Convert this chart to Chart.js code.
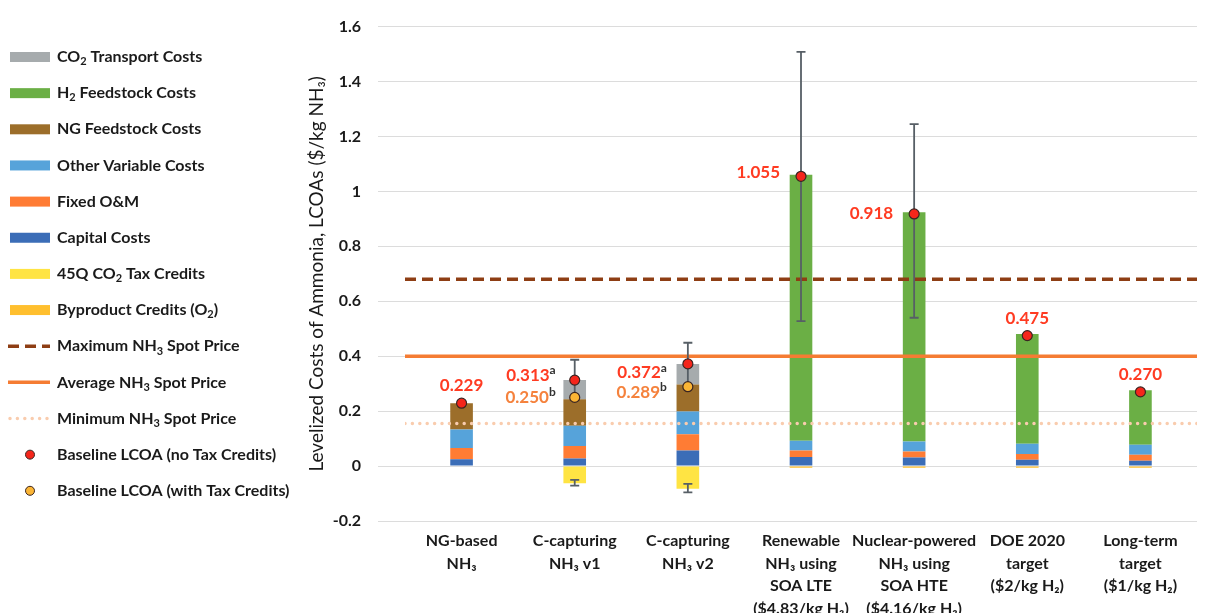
<!DOCTYPE html>
<html>
<head>
<meta charset="utf-8">
<script src="https://cdn.jsdelivr.net/npm/chart.js@4.4.1/dist/chart.umd.min.js"></script>
<style>
  html, body { margin: 0; padding: 0; background: #fff; }
</style>
</head>
<body>
<canvas id="chart" width="1212" height="613"></canvas>
<script>
// categories (x axis)
const categories = [
  ['NG-based', 'NH₃'],
  ['C-capturing', 'NH₃ v1'],
  ['C-capturing', 'NH₃ v2'],
  ['Renewable', 'NH₃ using', 'SOA LTE', '($4.83/kg H₂)'],
  ['Nuclear-powered', 'NH₃ using', 'SOA HTE', '($4.16/kg H₂)'],
  ['DOE 2020', 'target', '($2/kg H₂)'],
  ['Long-term', 'target', '($1/kg H₂)']
];

// cost components, $/kg NH3 (bottom to top)
const capitalCosts   = [0.025, 0.028, 0.057, 0.033, 0.031, 0.023, 0.019];
const fixedOM        = [0.041, 0.045, 0.059, 0.024, 0.022, 0.021, 0.022];
const otherVariable  = [0.067, 0.074, 0.083, 0.035, 0.036, 0.037, 0.037];
const ngFeedstock    = [0.096, 0.096, 0.098, null, null, null, null];
const h2Feedstock    = [null, null, null, 0.969, 0.835, 0.400, 0.198];
const co2Transport   = [null, 0.070, 0.075, null, null, null, null];
const taxCredits45Q  = [null, -0.063, -0.083, null, null, null, null];
const byproductO2    = [null, null, null, -0.006, -0.006, -0.006, -0.006];

// baseline LCOA points
const lcoaNoTax   = [0.229, 0.313, 0.372, 1.055, 0.918, 0.475, 0.270];
const lcoaWithTax = [null, 0.250, 0.289, null, null, null, null];

// error ranges [low, high]
const errLcoa = [null, [0.250, 0.387], [0.289, 0.449], [0.528, 1.508], [0.540, 1.245], null, null];
const errTax  = [null, [-0.071, -0.050], [-0.096, -0.065], null, null, null, null];

// NH3 spot prices
const maxSpotPrice = 0.68;
const avgSpotPrice = 0.40;
const minSpotPrice = 0.155;

// y axis range
const yMin = -0.2, yMax = 1.6, yStep = 0.2;

const fontFamily = 'Lato, "Open Sans", "DejaVu Sans", sans-serif';
Chart.defaults.font.family = fontFamily;
Chart.defaults.color = '#222';

const SUB = { '₂': '2', '₃': '3' };
const SUP = { 'ᵃ': 'a', 'ᵇ': 'b' };

function richParts(text) {
  const parts = [];
  for (const ch of text) {
    const kind = SUB[ch] ? 'sub' : SUP[ch] ? 'sup' : 'n';
    const c = SUB[ch] || SUP[ch] || ch;
    const last = parts[parts.length - 1];
    if (last && last.kind === kind) last.text += c;
    else parts.push({ kind: kind, text: c });
  }
  return parts;
}

function drawRich(ctx, text, x, y, size, color, align, supColor) {
  const parts = richParts(text);
  const fontFor = k => 'bold ' + (k === 'n' ? size : Math.round(size * 0.68)) + 'px ' + fontFamily;
  let total = 0;
  parts.forEach(p => { ctx.font = fontFor(p.kind); p.w = ctx.measureText(p.text).width; total += p.w; });
  let cx = align === 'right' ? x - total : align === 'center' ? x - total / 2 : x;
  ctx.textBaseline = 'middle';
  ctx.textAlign = 'left';
  parts.forEach(p => {
    ctx.font = fontFor(p.kind);
    ctx.fillStyle = (p.kind === 'sup' && supColor) ? supColor : color;
    const dy = p.kind === 'sub' ? size * 0.3 : p.kind === 'sup' ? -size * 0.3 : 0;
    ctx.fillText(p.text, cx, y + dy);
    cx += p.w;
  });
}

const legendOrder = [
  'CO₂ Transport Costs', 'H₂ Feedstock Costs', 'NG Feedstock Costs', 'Other Variable Costs',
  'Fixed O&M', 'Capital Costs', '45Q CO₂ Tax Credits', 'Byproduct Credits (O₂)',
  'Maximum NH₃ Spot Price', 'Average NH₃ Spot Price', 'Minimum NH₃ Spot Price',
  'Baseline LCOA (no Tax Credits)', 'Baseline LCOA (with Tax Credits)'
];

// where the value labels sit relative to their dot
const labelPlace = [
  { side: 'above', dy: -18 },
  { side: 'left', dx: -19, dy: -5, dyB: 0 },
  { side: 'left', dx: -21, dy: 9, dyB: 6 },
  { side: 'left', dx: -21, dy: -4 },
  { side: 'left', dx: -21, dy: 0 },
  { side: 'above', dy: -17 },
  { side: 'above', dy: -17 }
];

const sideLegend = {
  id: 'sideLegend',
  afterDraw(chart) {
    const ctx = chart.ctx;
    legendOrder.forEach((label, i) => {
      const ds = chart.data.datasets.find(d => d.label === label);
      const y = 57 + i * 36.15;
      ctx.save();
      if (ds.type === 'bar') {
        ctx.fillStyle = ds.backgroundColor;
        ctx.fillRect(10, y - 5, 40, 10);
      } else if (ds.showLine === false) {
        ctx.beginPath();
        ctx.arc(30, y, 4.5, 0, Math.PI * 2);
        ctx.fillStyle = ds.pointBackgroundColor;
        ctx.fill();
        ctx.lineWidth = 1;
        ctx.strokeStyle = ds.pointBorderColor;
        ctx.stroke();
      } else {
        ctx.beginPath();
        ctx.setLineDash(ds.borderDash || []);
        ctx.lineCap = ds.borderCapStyle || 'butt';
        ctx.lineWidth = ds.borderWidth;
        ctx.strokeStyle = ds.borderColor;
        ctx.moveTo(ds.borderCapStyle === 'round' ? 10 : 8, y);
        ctx.lineTo(50, y);
        ctx.stroke();
      }
      ctx.restore();
      ctx.save();
      drawRich(ctx, label, 57, y, 16, '#1a1a1a', 'left');
      ctx.restore();
    });
  }
};

const errorBars = {
  id: 'errorBars',
  beforeDatasetDraw(chart, args) {
    if (chart.data.datasets[args.index].label !== 'Baseline LCOA (with Tax Credits)') return;
    const ctx = chart.ctx, xs = chart.scales.x, ys = chart.scales.y;
    ctx.save();
    ctx.strokeStyle = '#575f66';
    ctx.lineWidth = 1.8;
    [errLcoa, errTax].forEach(list => {
      list.forEach((r, i) => {
        if (!r) return;
        const x = xs.getPixelForValue(i);
        const y0 = ys.getPixelForValue(r[0]), y1 = ys.getPixelForValue(r[1]);
        ctx.beginPath();
        ctx.moveTo(x, y0); ctx.lineTo(x, y1);
        ctx.moveTo(x - 4.5, y0); ctx.lineTo(x + 4.5, y0);
        ctx.moveTo(x - 4.5, y1); ctx.lineTo(x + 4.5, y1);
        ctx.stroke();
      });
    });
    ctx.restore();
  }
};

const valueLabels = {
  id: 'valueLabels',
  afterDatasetsDraw(chart) {
    const ctx = chart.ctx, xs = chart.scales.x, ys = chart.scales.y;
    lcoaNoTax.forEach((v, i) => {
      const p = labelPlace[i];
      const x = xs.getPixelForValue(i);
      const y = ys.getPixelForValue(v);
      const hasB = lcoaWithTax[i] != null;
      ctx.save();
      if (p.side === 'above') {
        drawRich(ctx, v.toFixed(3), x, y + p.dy, 17, '#ff3b22', 'center');
      } else {
        drawRich(ctx, v.toFixed(3) + (hasB ? 'ᵃ' : ''), x + p.dx, y + p.dy, 17, '#ff3b22', 'right', '#333');
        if (hasB) {
          const yb = ys.getPixelForValue(lcoaWithTax[i]);
          drawRich(ctx, lcoaWithTax[i].toFixed(3) + 'ᵇ', x + p.dx, yb + p.dyB, 17, '#f5823d', 'right', '#333');
        }
      }
      ctx.restore();
    });
  }
};

function barSet(label, data, color) {
  return { type: 'bar', label: label, data: data, backgroundColor: color, borderWidth: 0,
           stack: 'costs', grouped: false,
           xAxisID: 'x', yAxisID: 'y', order: 4, barPercentage: 0.2, categoryPercentage: 1 };
}
function hLine(label, value, color, width, dash, cap) {
  return { type: 'line', label: label, data: [{ x: 0, y: value }, { x: 1, y: value }],
           borderColor: color, borderWidth: width, borderDash: dash, borderCapStyle: cap,
           pointRadius: 0, xAxisID: 'xLine', yAxisID: 'yLine', order: 3 };
}
function dots(label, data, color, order) {
  return { type: 'line', label: label, data: data, showLine: false,
           pointRadius: 5, pointBackgroundColor: color, pointBorderColor: '#3a2522', pointBorderWidth: 1.2,
           xAxisID: 'x', yAxisID: 'yLine', order: order };
}

new Chart(document.getElementById('chart'), {
  type: 'bar',
  data: {
    labels: categories,
    datasets: [
      barSet('Capital Costs', capitalCosts, '#3b6db7'),
      barSet('Fixed O&M', fixedOM, '#ff7c34'),
      barSet('Other Variable Costs', otherVariable, '#56a3da'),
      barSet('NG Feedstock Costs', ngFeedstock, '#9c6e2a'),
      barSet('H₂ Feedstock Costs', h2Feedstock, '#6baf45'),
      barSet('CO₂ Transport Costs', co2Transport, '#a6abad'),
      barSet('45Q CO₂ Tax Credits', taxCredits45Q, '#ffe443'),
      barSet('Byproduct Credits (O₂)', byproductO2, '#ffbf2e'),
      hLine('Maximum NH₃ Spot Price', maxSpotPrice, '#8e3e14', 3.5, [11, 6], 'butt'),
      hLine('Average NH₃ Spot Price', avgSpotPrice, '#f57c33', 3.5, [], 'butt'),
      hLine('Minimum NH₃ Spot Price', minSpotPrice, '#f9ccae', 3.5, [0, 7.4], 'round'),
      dots('Baseline LCOA (no Tax Credits)', lcoaNoTax, '#f5261b', 1),
      dots('Baseline LCOA (with Tax Credits)', lcoaWithTax, '#fbb535', 2)
    ]
  },
  options: {
    responsive: false,
    animation: false,
    layout: { padding: { left: 305, right: 15, top: 20, bottom: 0 } },
    plugins: { legend: { display: false }, tooltip: { enabled: false } },
    scales: {
      x: {
        stacked: true,
        grid: { display: false },
        border: { display: false },
        ticks: { font: { size: 16, weight: 'bold', lineHeight: 1.4 }, color: '#1a1a1a', padding: 1,
                 maxRotation: 0, autoSkip: false },
        afterFit: s => { s.height = 92; }
      },
      xLine: { type: 'linear', display: false, offset: false, min: 0, max: 1 },
      y: {
        stacked: true,
        min: yMin, max: yMax,
        ticks: { stepSize: yStep, font: { size: 16, weight: 'bold' }, color: '#1a1a1a', padding: 17,
                 callback: v => String(+v.toFixed(1)) },
        grid: { color: '#dcdcdc', tickLength: 27, tickColor: '#dcdcdc' },
        border: { display: false },
        title: { display: true, text: 'Levelized Costs of Ammonia, LCOAs ($/kg NH₃)',
                 font: { size: 19 }, color: '#1a1a1a', padding: { top: 0, bottom: 0 } },
        afterFit: s => { s.width = 100; }
      },
      yLine: { display: false, min: yMin, max: yMax }
    }
  },
  plugins: [errorBars, valueLabels, sideLegend]
});
</script>
</body>
</html>
